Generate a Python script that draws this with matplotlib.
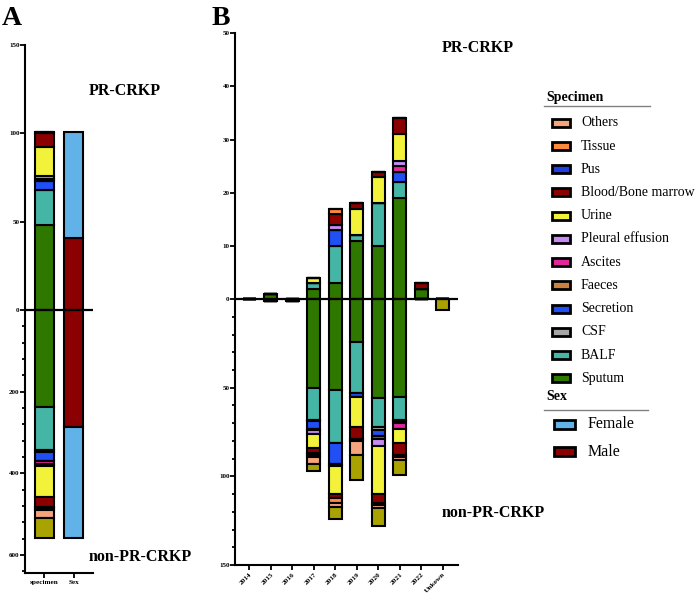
import matplotlib
matplotlib.use("Agg")
import matplotlib.pyplot as plt
import numpy as np
from matplotlib.lines import Line2D
from matplotlib.patches import Rectangle

plt.rcParams["font.family"] = ["Liberation Serif", "DejaVu Serif"]

years = ["2014", "2015", "2016", "2017", "2018", "2019", "2020", "2021", "2022", "Unkown"]

# stack order: first entry sits next to the zero line; the last (olive) one has no legend entry
specimens = ["Sputum", "BALF", "CSF", "Secretion", "Faeces", "Ascites", "Pleural effusion",
             "Urine", "Blood/Bone marrow", "Pus", "Tissue", "Others", "Unspecified"]
colors = ["#2e7800", "#45b5a6", "#a6a6a6", "#1f4ff5", "#c9823f", "#e0289a", "#c58cf0",
          "#f2f23a", "#8b0000", "#2040e0", "#ff8a3d", "#f5a47c", "#a8a300"]
legend_order = ["Others", "Tissue", "Pus", "Blood/Bone marrow", "Urine", "Pleural effusion",
                "Ascites", "Faeces", "Secretion", "CSF", "BALF", "Sputum"]

# PR-CRKP counts per year (same order as years)
pr_sputum = [0, 1, 0, 2, 3, 11, 10, 19, 2, 0]
pr_balf = [0, 0, 0, 1, 7, 1, 8, 3, 0, 0]
pr_csf = [0, 0, 0, 0, 0, 0, 0, 0, 0, 0]
pr_secretion = [0, 0, 0, 0, 3, 0, 0, 2, 0, 0]
pr_faeces = [0, 0, 0, 0, 0, 0, 0, 0, 0, 0]
pr_ascites = [0, 0, 0, 0, 0, 0, 0, 1, 0, 0]
pr_pleural = [0, 0, 0, 0, 1, 0, 0, 1, 0, 0]
pr_urine = [0, 0, 0, 1, 0, 5, 5, 5, 0, 0]
pr_blood = [0, 0, 0, 0, 2, 1, 1, 3, 1, 0]
pr_pus = [0, 0, 0, 0, 0, 0, 0, 0, 0, 0]
pr_tissue = [0, 0, 0, 0, 1, 0, 0, 0, 0, 0]
pr_others = [0, 0, 0, 0, 0, 0, 0, 0, 0, 0]
pr_unspecified = [0, 0, 0, 0, 0, 0, 0, 0, 0, 0]

# non-PR-CRKP counts per year
np_sputum = [0, 1, 1, 50, 51, 24, 56, 55, 0, 0]
np_balf = [0, 0, 0, 18, 30, 29, 16, 13, 0, 0]
np_csf = [0, 0, 0, 1, 0, 0, 2, 1, 0, 0]
np_secretion = [0, 0, 0, 4, 12, 2, 3, 1, 0, 0]
np_faeces = [0, 0, 0, 0, 0, 0, 0, 0, 0, 0]
np_ascites = [0, 0, 0, 1, 1, 0, 2, 3, 0, 0]
np_pleural = [0, 0, 0, 2, 0, 0, 4, 0, 0, 0]
np_urine = [0, 0, 0, 8, 16, 17, 27, 8, 0, 0]
np_blood = [0, 0, 0, 3, 2, 7, 5, 7, 0, 0]
np_pus = [0, 0, 0, 1, 0, 1, 0, 1, 0, 0]
np_tissue = [0, 0, 0, 1, 3, 0, 1, 0, 0, 0]
np_others = [0, 0, 0, 4, 2, 8, 2, 2, 0, 0]
np_unspecified = [0, 0, 0, 4, 7, 14, 10, 8, 0, 6]

# sex split for panel A
sex_labels = ["Male", "Female"]
sex_colors = ["#8b0000", "#62b2ea"]
pr_sex = [41, 60]
np_sex = [287, 271]

pr_table = np.array([pr_sputum, pr_balf, pr_csf, pr_secretion, pr_faeces, pr_ascites,
                     pr_pleural, pr_urine, pr_blood, pr_pus, pr_tissue, pr_others,
                     pr_unspecified])
np_table = np.array([np_sputum, np_balf, np_csf, np_secretion, np_faeces, np_ascites,
                     np_pleural, np_urine, np_blood, np_pus, np_tissue, np_others,
                     np_unspecified])


def split_scale(k):
    # upper half linear, lower half compressed by k (two-segment axis)
    def fwd(v):
        v = np.asarray(v, dtype=float)
        return np.where(v >= 0, v, v * k)

    def inv(v):
        v = np.asarray(v, dtype=float)
        return np.where(v >= 0, v, v / k)

    return fwd, inv


def stack(ax, x, pos, neg, cols, width):
    up = np.zeros(len(x))
    down = np.zeros(len(x))
    for p, n, c in zip(pos, neg, cols):
        ax.bar(x, p, width, bottom=up, color=c, edgecolor="black", linewidth=1.5, zorder=3)
        ax.bar(x, -np.asarray(n), width, bottom=-down, color=c, edgecolor="black",
               linewidth=1.5, zorder=3)
        up += p
        down += n


def style_axis(ax, major, minor, lim, xlim):
    ax.set_ylim(*lim)
    ax.set_xlim(*xlim)
    ax.set_yticks(major)
    ax.set_yticklabels([str(abs(int(t))) for t in major])
    ax.set_yticks(minor, minor=True)
    for s in ("top", "right"):
        ax.spines[s].set_visible(False)
    for s in ("left", "bottom"):
        ax.spines[s].set_linewidth(1.5)
    ax.tick_params(axis="y", which="major", length=3.5, width=1.3, labelsize=5, pad=0.5)
    ax.tick_params(axis="y", which="minor", length=2.2, width=1.3)
    ax.tick_params(axis="x", length=3.5, width=1.3, labelsize=5.2, pad=1.5)
    ax.axhline(0, color="black", linewidth=1.6, zorder=5)
    for lbl in ax.get_xticklabels() + ax.get_yticklabels():
        lbl.set_fontweight("bold")


fig = plt.figure(figsize=(6.96, 6.0), dpi=100)
W, H = 696.0, 600.0

# panel A
axA = fig.add_axes([25 / W, (H - 573.4) / H, 68 / W, 528.4 / H])
axA.set_yscale("function", functions=split_scale(0.2313))
xa = np.arange(2)
stack(axA, xa[:1], pr_table.sum(axis=1)[:, None], np_table.sum(axis=1)[:, None], colors, 0.62)
stack(axA, xa[1:], np.array(pr_sex)[:, None], np.array(np_sex)[:, None], sex_colors, 0.65)
axA.set_xticks(xa)
axA.set_xticklabels(["specimen", "Sex"])
style_axis(axA, [-600, -400, -200, 0, 50, 100, 150], np.arange(-640, 0, 40),
           (-645, 150), (-0.665, 1.655))

# panel B
axB = fig.add_axes([235 / W, (H - 565) / H, 223 / W, 531.7 / H])
axB.set_yscale("function", functions=split_scale(1 / 3))
xb = np.arange(len(years))
stack(axB, xb, pr_table, np_table, colors, 0.6)
axB.set_xticks(xb)
axB.set_xticklabels(years, rotation=45, ha="right", rotation_mode="anchor")
style_axis(axB, [-150, -100, -50, 0, 10, 20, 30, 40, 50], np.arange(-150, 0, 10),
           (-150, 50), (-0.665, 9.71))


def fx(x):
    return x / W


def fy(y):
    return 1 - y / H


bold = dict(fontweight="bold")
fig.text(fx(2), fy(25), "A", fontsize=20, va="baseline", **bold)
fig.text(fx(212), fy(25), "B", fontsize=20, va="baseline", **bold)
fig.text(fx(89), fy(91), "PR-CRKP", fontsize=11.5, va="center", **bold)
fig.text(fx(89), fy(557), "non-PR-CRKP", fontsize=11.5, va="center", **bold)
fig.text(fx(442), fy(48), "PR-CRKP", fontsize=11.5, va="center", **bold)
fig.text(fx(442), fy(513), "non-PR-CRKP", fontsize=11.5, va="center", **bold)

# legend, drawn by hand to get the Prism look
fig.text(fx(546), fy(97), "Specimen", fontsize=10, va="center", **bold)
fig.add_artist(Line2D([fx(544), fx(650)], [fy(105.5), fy(105.5)], color="#808080", lw=1))
for j, name in enumerate(legend_order):
    y = 122.8 + 23.23 * j
    c = colors[specimens.index(name)]
    fig.add_artist(Rectangle((fx(552), fy(y + 4)), 18 / W, 8 / H, facecolor=c,
                             edgecolor="black", linewidth=2.0))
    fig.text(fx(581), fy(y), name, fontsize=10, va="center")

fig.text(fx(546), fy(397), "Sex", fontsize=10, va="center", **bold)
fig.add_artist(Line2D([fx(544), fx(648)], [fy(409.5), fy(409.5)], color="#808080", lw=1))
for j, name in enumerate(["Female", "Male"]):
    y = 424 + 27.7 * j
    c = sex_colors[sex_labels.index(name)]
    fig.add_artist(Rectangle((fx(554), fy(y + 4.5)), 21 / W, 9 / H, facecolor=c,
                             edgecolor="black", linewidth=2.0))
    fig.text(fx(588), fy(y), name, fontsize=11.5, va="center")

fig.savefig("out.png", dpi=100)
